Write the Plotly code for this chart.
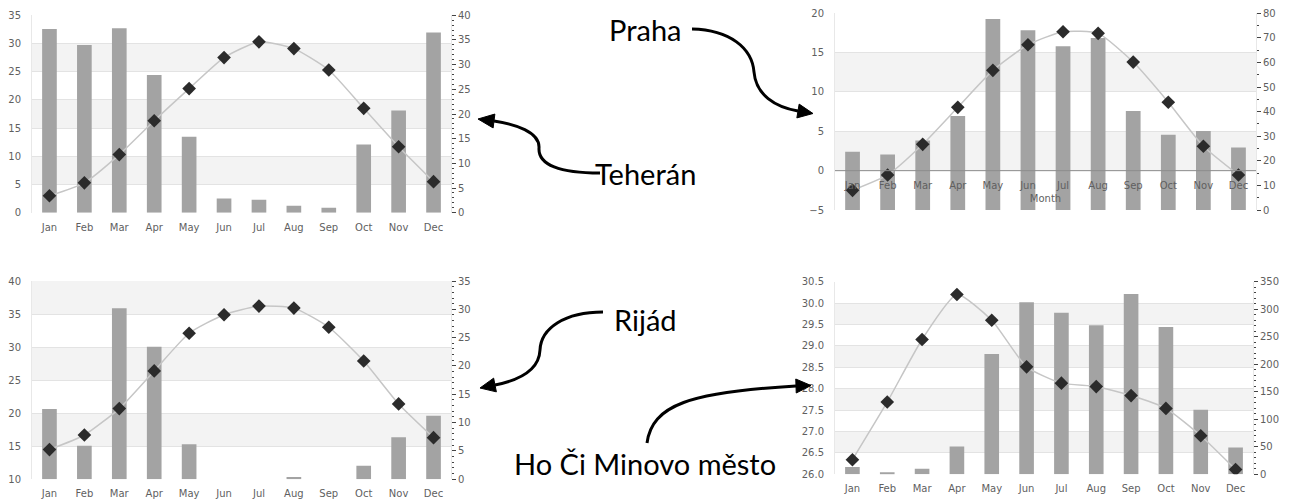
import math
import plotly.graph_objects as go

W, H = 1290, 500

months = ["Jan", "Feb", "Mar", "Apr", "May", "Jun", "Jul", "Aug", "Sep", "Oct", "Nov", "Dec"]

teheran_temp = [3.0, 5.3, 10.3, 16.3, 22.0, 27.5, 30.3, 29.1, 25.3, 18.5, 11.7, 5.5]
teheran_prec = [37.2, 34.0, 37.4, 27.9, 15.4, 2.9, 2.6, 1.4, 1.0, 13.8, 20.7, 36.5]

praha_temp = [-2.5, -0.55, 3.35, 8.05, 12.75, 16.0, 17.65, 17.45, 13.8, 8.7, 3.1, -0.55]
praha_prec = [23.7, 22.6, 28.3, 38.2, 77.7, 73.1, 66.6, 70.0, 40.3, 30.6, 32.1, 25.4]

rijad_temp = [14.5, 16.7, 20.7, 26.4, 32.1, 34.9, 36.2, 35.9, 33.0, 27.9, 21.4, 16.3]
rijad_prec = [12.4, 5.9, 30.2, 23.4, 6.2, 0, 0, 0.4, 0, 2.4, 7.4, 11.2]

hcm_temp = [26.34, 27.69, 29.15, 30.2, 29.6, 28.51, 28.13, 28.05, 27.84, 27.54, 26.9, 26.11]
hcm_prec = [13.3, 3.6, 10.3, 50.3, 218.6, 312.5, 293.8, 270.7, 327.7, 267.7, 117.5, 48.5]

city_labels = ["Teherán", "Praha", "Rijád", "Ho Či Minovo město"]

# panel: temps, precs, left range, left dtick, right range, right dtick, right minor, box(px), fmt
panels = [
    dict(t=teheran_temp, p=teheran_prec, lr=[0, 35], ld=5, rr=[0, 40], rd=5, rm=1,
         box=(32, 15.3, 451, 212.7), fmt="", month_title=False),
    dict(t=praha_temp, p=praha_prec, lr=[-5, 20], ld=5, rr=[0, 80], rd=10, rm=5,
         box=(835, 13.3, 1256, 210), fmt="", month_title=True),
    dict(t=rijad_temp, p=rijad_prec, lr=[10, 40], ld=5, rr=[0, 35], rd=5, rm=1,
         box=(32, 281, 451, 479.3), fmt="", month_title=False),
    dict(t=hcm_temp, p=hcm_prec, lr=[26, 30.5], ld=0.5, rr=[0, 350], rd=50, rm=10,
         box=(835, 281.7, 1253, 474.3), fmt=".1f", month_title=False),
]

TICKFONT = dict(family="DejaVu Sans", size=10, color="#5f5f5f")

fig = go.Figure()
layout = dict(
    width=W, height=H, margin=dict(l=0, r=0, t=0, b=0, autoexpand=False),
    paper_bgcolor="white", plot_bgcolor="rgba(0,0,0,0)",
    showlegend=False, bargap=0.58,
)
shapes = []


def px(x, y):
    return x / W, 1 - y / H


def aid(letter, n):
    return letter if n == 1 else f"{letter}{n}"


for k, pn in enumerate(panels, start=1):
    xa = aid("x", k)
    yb = aid("y", 2 * k - 1)
    yl = aid("y", 2 * k)
    l, t, r, b = pn["box"]
    xdom = [l / W, r / W]
    ydom = [1 - b / H, 1 - t / H]

    fig.add_trace(go.Bar(x=months, y=pn["p"], xaxis=xa, yaxis=yb,
                         marker=dict(color="#a3a3a3", line=dict(width=0))))
    fig.add_trace(go.Scatter(x=months, y=pn["t"], xaxis=xa, yaxis=yl, mode="lines+markers",
                             line=dict(color="#c6c6c6", width=1.5, shape="spline", smoothing=0.55),
                             marker=dict(symbol="diamond", size=10.5, color="#2b2b2b")))

    xname = "xaxis" if k == 1 else f"xaxis{k}"
    xaxis = dict(domain=xdom, type="category", range=[-0.5, 11.5], showgrid=False,
                 zeroline=False, tickfont=TICKFONT, ticks="outside", ticklen=5,
                 tickcolor="rgba(0,0,0,0)", showline=False, automargin=False)
    if pn["month_title"]:
        lo, hi = pn["lr"]
        pos = ydom[0] + (0 - lo) / (hi - lo) * (ydom[1] - ydom[0])
        xaxis.update(anchor="free", position=pos, ticklen=5,
                     title=dict(text="Month", font=TICKFONT, standoff=5))
        # zero line drawn over the bars
        shapes.append(dict(type="line", xref=f"{xa} domain", yref=yl, x0=0, x1=1, y0=0, y1=0,
                           layer="above", line=dict(color="#8c8c8c", width=1)))
    else:
        xaxis.update(anchor=yb)
    layout[xname] = xaxis

    layout["yaxis" if 2 * k - 1 == 1 else f"yaxis{2 * k - 1}"] = dict(
        domain=ydom, anchor=xa, side="right", range=pn["rr"], dtick=pn["rd"], tick0=0,
        showgrid=False, zeroline=False, ticks="outside", ticklen=4, tickcolor="#444444",
        tickwidth=1, tickfont=TICKFONT, showline=True, linecolor="#e8e8e8", automargin=False,
        minor=dict(dtick=pn["rm"], tick0=0, ticks="outside", ticklen=2, tickcolor="#444444",
                   showgrid=False),
    )
    layout[f"yaxis{2 * k}"] = dict(
        overlaying=yb, anchor=xa, side="left", range=pn["lr"], dtick=pn["ld"], tick0=pn["lr"][0],
        showgrid=True, gridcolor="#e3e3e3", gridwidth=1,
        zeroline=False, automargin=False,
        ticks="outside", ticklen=8, tickcolor="rgba(0,0,0,0)", tickfont=TICKFONT,
        tickformat=pn["fmt"], showline=True, linecolor="#e8e8e8",
    )

    # alternating background bands between left-axis grid lines
    lo, hi = pn["lr"]
    step = pn["ld"]
    n = int(round((hi - lo) / step))
    for i in range(1, n, 2):
        shapes.append(dict(type="rect", xref=f"{xa} domain", yref=yl, x0=0, x1=1,
                           y0=lo + i * step, y1=lo + (i + 1) * step, layer="below",
                           fillcolor="#f3f3f3", line=dict(width=0)))


# curved arrows (pixel coordinates -> paper)
def curve(points):
    s = ""
    cmd = ["M"] + ["C"] * ((len(points) - 1) // 3)
    segs = [points[0:1]] + [points[i:i + 3] for i in range(1, len(points), 3)]
    for c, seg in zip(cmd, segs):
        s += c + " " + " ".join("%.5f,%.5f" % px(x, y) for x, y in seg) + " "
    return s.strip()


def head(base, tip, width=14):
    dx, dy = tip[0] - base[0], tip[1] - base[1]
    L = math.hypot(dx, dy)
    nx, ny = -dy / L, dx / L
    p1 = (base[0] + nx * width / 2, base[1] + ny * width / 2)
    p2 = (base[0] - nx * width / 2, base[1] - ny * width / 2)
    pts = [tip, p1, p2]
    return "M " + " L ".join("%.5f,%.5f" % px(x, y) for x, y in pts) + " Z"


arrows = [
    ([(692, 29), (730, 30), (752, 48), (754, 72), (756, 95), (775, 107), (798, 111)], (798, 111), (813, 113.5)),
    ([(600, 173), (560, 173), (538, 165), (539, 148), (540, 132), (515, 124), (494, 121)], (494, 121), (478, 119)),
    ([(603, 312), (565, 312), (541, 328), (540, 350), (539, 372), (515, 381), (495, 385)], (495, 385), (480, 388)),
    ([(647, 443), (652, 405), (690, 392), (796, 386)], (796, 386), (811, 385.5)),
]
for pts, base, tip in arrows:
    shapes.append(dict(type="path", xref="paper", yref="paper", path=curve(pts),
                       line=dict(color="black", width=3), fillcolor="rgba(0,0,0,0)", layer="above"))
    shapes.append(dict(type="path", xref="paper", yref="paper", path=head(base, tip),
                       line=dict(color="black", width=1), fillcolor="black", layer="above"))

layout["shapes"] = shapes

label_y = [173, 29, 319, 463]
layout["annotations"] = [
    dict(text=txt, x=0.5, y=1 - yy / H, xref="paper", yref="paper", showarrow=False,
         xanchor="center", yanchor="middle", font=dict(family="Lato", size=29, color="black"))
    for txt, yy in zip(city_labels, label_y)
]

fig.update_layout(**layout)
fig.write_html("out.html")
